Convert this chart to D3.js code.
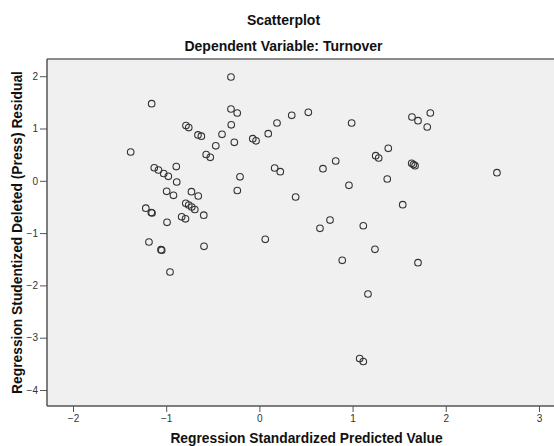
<!DOCTYPE html>
<html><head><meta charset="utf-8">
<script src="https://cdn.jsdelivr.net/npm/d3@7"></script>
<style>body{margin:0;background:#fff;}svg{display:block;}</style>
</head><body>
<script>
// Regression Standardized Predicted Value
const predicted = [
 -1.156,-0.788,-0.758,-0.659,-0.623,-0.468,-1.381,-0.571,-0.527,-1.128,
 -1.083,-1.027,-0.977,-0.892,-0.887,-0.305,-0.238,-0.302,-0.401,-0.269,
 -0.071,-0.036,-0.208,-0.305,0.095,0.189,0.347,0.525,0.990,0.164,
 0.224,0.682,0.819,1.637,1.702,1.834,1.801,1.383,1.248,1.280,
 1.634,1.670,1.653,2.549,1.372,-0.995,-0.922,-0.729,-0.656,-0.790,
 -0.758,-0.726,-0.693,-0.597,-1.219,-1.160,-1.152,-0.991,-0.834,-0.793,
 -1.185,-1.056,-1.048,-0.594,-0.959,-0.237,0.961,0.389,0.758,0.650,
 1.115,0.063,0.889,1.165,1.538,1.240,1.702,1.076,1.115
];
// Regression Studentized Deleted (Press) Residual
const residual = [
 1.474,1.057,1.017,0.877,0.853,0.669,0.551,0.503,0.449,0.250,
 0.207,0.140,0.086,0.273,-0.023,1.373,1.296,1.071,0.889,0.736,
 0.805,0.765,0.076,1.985,0.901,1.105,1.252,1.310,1.105,0.245,
 0.174,0.231,0.379,1.220,1.149,1.296,1.029,0.621,0.480,0.436,
 0.335,0.289,0.312,0.155,0.034,-0.201,-0.277,-0.208,-0.291,-0.430,
 -0.463,-0.501,-0.549,-0.658,-0.524,-0.606,-0.616,-0.793,-0.688,-0.727,
 -1.170,-1.317,-1.327,-1.252,-1.744,-0.185,-0.086,-0.310,-0.750,-0.908,
 -0.859,-1.119,-1.520,-2.164,-0.457,-1.310,-1.566,-3.400,-3.455
];
const xTicks = [-2,-1,0,1,2,3];
const yTicks = [2,1,0,-1,-2,-3,-4];
const titleMain = "Scatterplot";
const titleSub = "Dependent Variable: Turnover";
const xTitle = "Regression Standardized Predicted Value";
const yTitle = "Regression Studentized Deleted (Press) Residual";

const W = 554, H = 446;
const L = 47, R = 566, T = 59, B = 406;
const svg = d3.select("body").append("svg").attr("width", W).attr("height", H);
const font = "Arial, 'Liberation Sans', sans-serif";

const x = d3.scaleLinear().domain([-2.279, 3.29]).range([L, R]);
const y = d3.scaleLinear().domain([-4.306, 2.329]).range([B, T]);

svg.append("rect").attr("x", L).attr("y", T).attr("width", R - L).attr("height", B - T)
  .attr("fill", "#f0f0f0");

// titles
svg.append("text").attr("x", 283.5).attr("y", 25).attr("text-anchor", "middle")
  .attr("font-family", font).attr("font-weight", "bold").attr("font-size", 14)
  .attr("fill", "#111").text(titleMain);
svg.append("text").attr("x", 283.5).attr("y", 51).attr("text-anchor", "middle")
  .attr("font-family", font).attr("font-weight", "bold").attr("font-size", 14)
  .attr("fill", "#111").text(titleSub);

// axes
const xAxis = d3.axisBottom(x).tickValues(xTicks).tickSize(6).tickPadding(3).tickFormat(d3.format("d"));
const gx = svg.append("g").attr("transform", `translate(0,${B})`).call(xAxis);
const yAxis = d3.axisLeft(y).tickValues(yTicks).tickSize(7).tickPadding(2).tickFormat(d3.format("d"));
const gy = svg.append("g").attr("transform", `translate(${L},0)`).call(yAxis);
[gx, gy].forEach(g => {
  g.select(".domain").remove();
  g.selectAll(".tick line").attr("stroke", "#555");
  g.selectAll(".tick text").attr("font-family", font).attr("font-size", 10).attr("fill", "#333");
});

// frame
svg.append("line").attr("x1", L).attr("x2", W).attr("y1", T).attr("y2", T).attr("stroke", "#666").attr("stroke-width", 1.3);
svg.append("line").attr("x1", L).attr("x2", W).attr("y1", B).attr("y2", B).attr("stroke", "#555").attr("stroke-width", 1.5);
svg.append("line").attr("x1", L).attr("x2", L).attr("y1", T).attr("y2", B).attr("stroke", "#555").attr("stroke-width", 1.5);

// points
svg.append("g").selectAll("circle").data(predicted.map((v, i) => [v, residual[i]]))
  .join("circle")
  .attr("cx", d => x(d[0])).attr("cy", d => y(d[1])).attr("r", 3.3)
  .attr("fill", "none").attr("stroke", "#333").attr("stroke-width", 1.1);

// axis titles
svg.append("text").attr("x", (L + R) / 2).attr("y", 443).attr("text-anchor", "middle")
  .attr("font-family", font).attr("font-weight", "bold").attr("font-size", 13.8)
  .attr("fill", "#111").text(xTitle);
svg.append("text").attr("transform", `translate(21.5,${(T + B) / 2}) rotate(-90)`)
  .attr("text-anchor", "middle")
  .attr("font-family", font).attr("font-weight", "bold").attr("font-size", 13.8)
  .attr("fill", "#111").text(yTitle);
</script>
</body></html>
